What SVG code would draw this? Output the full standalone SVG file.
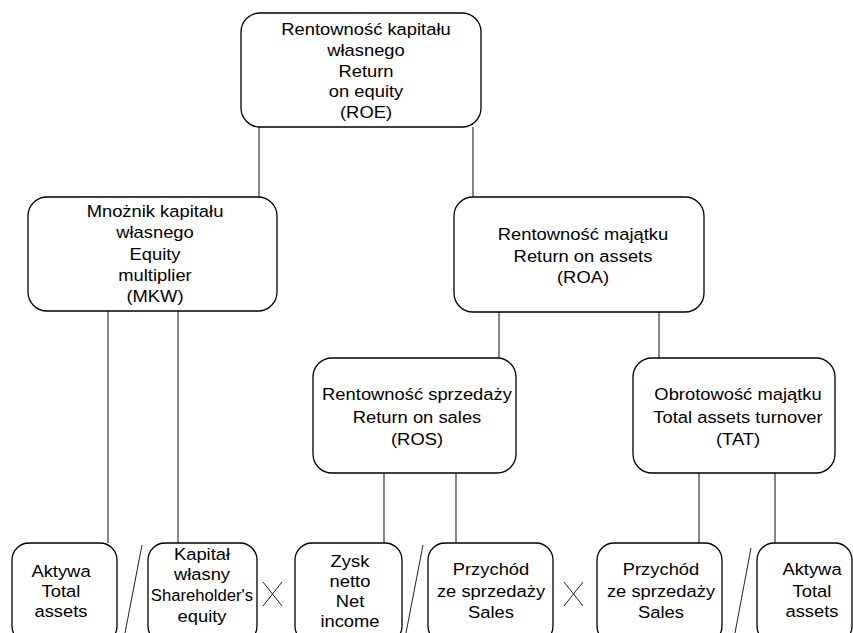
<svg xmlns="http://www.w3.org/2000/svg" width="853" height="633" viewBox="0 0 853 633">
<style>
.box{fill:#fff;stroke:#000;stroke-width:1.3}
.ln{stroke:#222;stroke-width:1.1;fill:none}
.op{stroke:#222;stroke-width:1;fill:none}
text{font-family:"Liberation Sans",Arial,sans-serif;font-size:17px;fill:#000;text-anchor:middle}
</style>
<rect width="853" height="633" fill="#fff"/>
<g id="connectors">
<line class="ln" x1="259" y1="127" x2="259" y2="197"/>
<line class="ln" x1="473" y1="127" x2="473" y2="197"/>
<line class="ln" x1="499" y1="312" x2="499" y2="358"/>
<line class="ln" x1="659" y1="312" x2="659" y2="358"/>
<line class="ln" x1="108" y1="311" x2="108" y2="543"/>
<line class="ln" x1="178" y1="311" x2="178" y2="543"/>
<line class="ln" x1="384" y1="473" x2="384" y2="543"/>
<line class="ln" x1="456" y1="473" x2="456" y2="543"/>
<line class="ln" x1="699" y1="473" x2="699" y2="543"/>
<line class="ln" x1="775" y1="473" x2="775" y2="543"/>
</g>
<g id="roe">
<rect class="box" x="241" y="13" width="240" height="114" rx="19"/>
<text transform="translate(366 0) scale(1.08 1)"><tspan x="0" y="35">Rentowność kapitału</tspan><tspan x="0" y="56">własnego</tspan><tspan x="0" y="77">Return</tspan><tspan x="0" y="97">on equity</tspan><tspan x="0" y="118">(ROE)</tspan></text>
</g>
<g id="mkw">
<rect class="box" x="28" y="197" width="249" height="114" rx="19"/>
<text transform="translate(155 0) scale(1.08 1)"><tspan x="0" y="217">Mnożnik kapitału</tspan><tspan x="0" y="238">własnego</tspan><tspan x="0" y="260">Equity</tspan><tspan x="0" y="281">multiplier</tspan><tspan x="0" y="302">(MKW)</tspan></text>
</g>
<g id="roa">
<rect class="box" x="454" y="197" width="250" height="115" rx="19"/>
<text transform="translate(583 0) scale(1.08 1)"><tspan x="0" y="240">Rentowność majątku</tspan><tspan x="0" y="262">Return on assets</tspan><tspan x="0" y="283">(ROA)</tspan></text>
</g>
<g id="ros">
<rect class="box" x="313" y="358" width="203" height="115" rx="19"/>
<text transform="translate(417 0) scale(1.08 1)"><tspan x="0" y="400">Rentowność sprzedaży</tspan><tspan x="0" y="423">Return on sales</tspan><tspan x="0" y="445">(ROS)</tspan></text>
</g>
<g id="tat">
<rect class="box" x="633" y="358" width="202" height="115" rx="19"/>
<text transform="translate(738 0) scale(1.08 1)"><tspan x="0" y="400">Obrotowość majątku</tspan><tspan x="0" y="423">Total assets turnover</tspan><tspan x="0" y="445">(TAT)</tspan></text>
</g>
<g id="aktywa1">
<rect class="box" x="12" y="543" width="105" height="100" rx="17"/>
<text transform="translate(61 0) scale(1.08 1)"><tspan x="0" y="577">Aktywa</tspan><tspan x="0" y="597">Total</tspan><tspan x="0" y="617">assets</tspan></text>
</g>
<g id="kapital">
<rect class="box" x="148" y="543" width="109" height="100" rx="17"/>
<text transform="translate(202 0) scale(1.08 1)"><tspan x="0" y="560">Kapitał</tspan><tspan x="0" y="580">własny</tspan></text>
<text transform="translate(202 0) scale(0.98 1)" x="0" y="601">Shareholder's</text>
<text transform="translate(202 0) scale(1.08 1)" x="0" y="622">equity</text>
</g>
<g id="zysk">
<rect class="box" x="295" y="543" width="107" height="100" rx="17"/>
<text transform="translate(350 0) scale(1.08 1)"><tspan x="0" y="567">Zysk</tspan><tspan x="0" y="587">netto</tspan><tspan x="0" y="607">Net</tspan><tspan x="0" y="627">income</tspan></text>
</g>
<g id="przychod1">
<rect class="box" x="428" y="543" width="125" height="100" rx="17"/>
<text transform="translate(491 0) scale(1.08 1)"><tspan x="0" y="575">Przychód</tspan><tspan x="0" y="597">ze sprzedaży</tspan><tspan x="0" y="618">Sales</tspan></text>
</g>
<g id="przychod2">
<rect class="box" x="597" y="543" width="125" height="100" rx="17"/>
<text transform="translate(661 0) scale(1.08 1)"><tspan x="0" y="575">Przychód</tspan><tspan x="0" y="597">ze sprzedaży</tspan><tspan x="0" y="618">Sales</tspan></text>
</g>
<g id="aktywa2">
<rect class="box" x="757" y="543" width="95" height="100" rx="17"/>
<text transform="translate(812 0) scale(1.08 1)"><tspan x="0" y="575">Aktywa</tspan><tspan x="0" y="597">Total</tspan><tspan x="0" y="617">assets</tspan></text>
</g>
<g id="operators">
<line class="op" x1="142" y1="545" x2="125" y2="633"/>
<line class="op" x1="423" y1="545" x2="406" y2="633"/>
<line class="op" x1="751" y1="548" x2="735" y2="633"/>
<path class="op" d="M263 582L282 606M282 582L263 606"/>
<path class="op" d="M564 582L583 606M583 582L564 606"/>
</g>
</svg>
